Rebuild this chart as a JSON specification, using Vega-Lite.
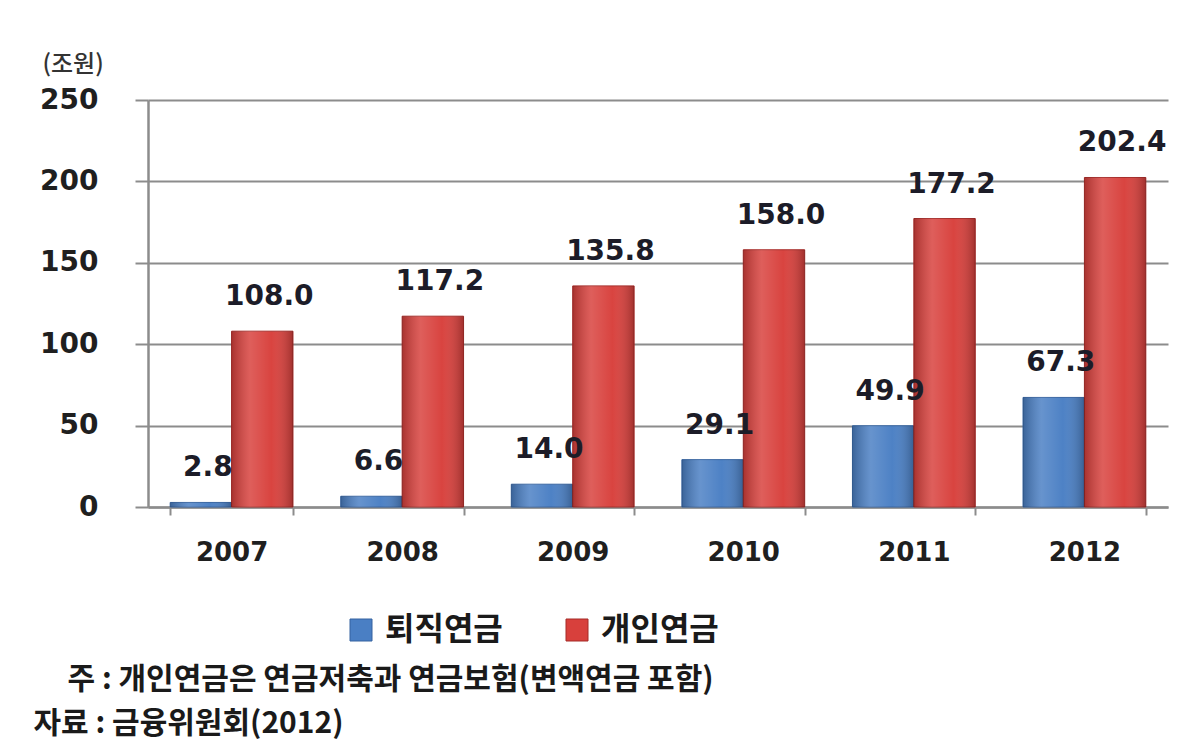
{
  "$schema": "https://vega.github.io/schema/vega-lite/v6.json",
  "width": 1020,
  "height": 407,
  "autosize": {"type": "none"},
  "padding": {"left": 148, "top": 100, "right": 30, "bottom": 237},
  "background": "white",
  "data": {
    "values": [
      {"year": "2007", "series": "퇴직연금", "value": 2.8},
      {"year": "2007", "series": "개인연금", "value": 108.0},
      {"year": "2008", "series": "퇴직연금", "value": 6.6},
      {"year": "2008", "series": "개인연금", "value": 117.2},
      {"year": "2009", "series": "퇴직연금", "value": 14.0},
      {"year": "2009", "series": "개인연금", "value": 135.8},
      {"year": "2010", "series": "퇴직연금", "value": 29.1},
      {"year": "2010", "series": "개인연금", "value": 158.0},
      {"year": "2011", "series": "퇴직연금", "value": 49.9},
      {"year": "2011", "series": "개인연금", "value": 177.2},
      {"year": "2012", "series": "퇴직연금", "value": 67.3},
      {"year": "2012", "series": "개인연금", "value": 202.4}
    ]
  },
  "encoding": {
    "x": {
      "field": "year",
      "type": "nominal",
      "scale": {"paddingInner": 0.28, "paddingOuter": 0.13},
      "axis": {
        "title": ["\u200b\u00a0\u00a0\u00a0\u00a0\u00a0주 : 개인연금은 연금저축과 연금보험(변액연금 포함)", "자료 : 금융위원회(2012)"],
        "titleFont": "Noto Sans CJK KR",
        "titleFontSize": 30,
        "titleFontWeight": "bold",
        "titleColor": "#1a1a1a",
        "titleX": -115,
        "titleY": 181,
        "titleAlign": "left",
        "titleAnchor": "start",
        "titleBaseline": "alphabetic",
        "titleLineHeight": 44,
        "labelAngle": 0,
        "labelFont": "DejaVu Sans",
        "labelFontSize": 26,
        "labelFontWeight": "bold",
        "labelColor": "#1f1f1f",
        "labelPadding": 24,
        "tickBand": "extent",
        "tickSize": 8,
        "tickWidth": 2,
        "tickColor": "#8c8c8c",
        "domainColor": "#8c8c8c",
        "domainWidth": 2.5
      }
    },
    "xOffset": {"field": "series", "type": "nominal", "sort": ["퇴직연금", "개인연금"]},
    "y": {
      "field": "value",
      "type": "quantitative",
      "scale": {"domain": [0, 250], "nice": false},
      "axis": {
        "values": [0, 50, 100, 150, 200, 250],
        "title": "(조원)",
        "titleAngle": 0,
        "titleX": -106,
        "titleY": -29,
        "titleAlign": "left",
        "titleBaseline": "alphabetic",
        "titleFont": "Noto Sans CJK KR",
        "titleFontSize": 24,
        "titleFontWeight": 500,
        "titleColor": "#333333",
        "labelFont": "DejaVu Sans",
        "labelFontSize": 28,
        "labelFontWeight": "bold",
        "labelColor": "#1f1f1f",
        "labelPadding": 37,
        "tickSize": 13,
        "tickWidth": 2,
        "tickColor": "#8c8c8c",
        "grid": true,
        "gridColor": "#8c8c8c",
        "gridWidth": 2,
        "domainColor": "#8c8c8c",
        "domainWidth": 2.5
      }
    }
  },
  "layer": [
    {
      "mark": {"type": "bar", "strokeWidth": 1},
      "encoding": {
        "color": {
          "field": "series",
          "type": "nominal",
          "sort": ["퇴직연금", "개인연금"],
          "scale": {"domain": ["퇴직연금", "개인연금"], "range": ["#4a7fc4", "#d8403c"]},
          "legend": {
            "orient": "none",
            "legendX": 197,
            "legendY": 514,
            "direction": "horizontal",
            "title": null,
            "symbolType": "square",
            "symbolSize": 484,
            "symbolStrokeWidth": 1,
            "labelFont": "Noto Sans CJK KR",
            "labelFontSize": 32,
            "labelFontWeight": "bold",
            "labelColor": "#1a1a1a",
            "labelOffset": 8,
            "columnPadding": 58
          }
        },
        "stroke": {
          "field": "series",
          "type": "nominal",
          "scale": {"domain": ["퇴직연금", "개인연금"], "range": ["#3563a0", "#a52a27"]},
          "legend": null
        }
      }
    },
    {
      "mark": {
        "type": "bar",
        "fill": {
          "gradient": "linear",
          "x1": 0, "x2": 1, "y1": 0, "y2": 0,
          "stops": [
            {"offset": 0, "color": "rgba(0,0,0,0.22)"},
            {"offset": 0.3, "color": "rgba(255,255,255,0.16)"},
            {"offset": 0.65, "color": "rgba(255,255,255,0.02)"},
            {"offset": 1, "color": "rgba(0,0,0,0.25)"}
          ]
        }
      },
      "encoding": {}
    },
    {
      "mark": {
        "type": "text",
        "dy": -26,
        "dx": 7,
        "baseline": "alphabetic",
        "align": "center",
        "font": "DejaVu Sans",
        "fontSize": 28,
        "fontWeight": "bold",
        "color": "#1c1c28"
      },
      "encoding": {
        "text": {"field": "value", "type": "quantitative", "format": ".1f"}
      }
    }
  ],
  "config": {
    "view": {"stroke": null}
  }
}
